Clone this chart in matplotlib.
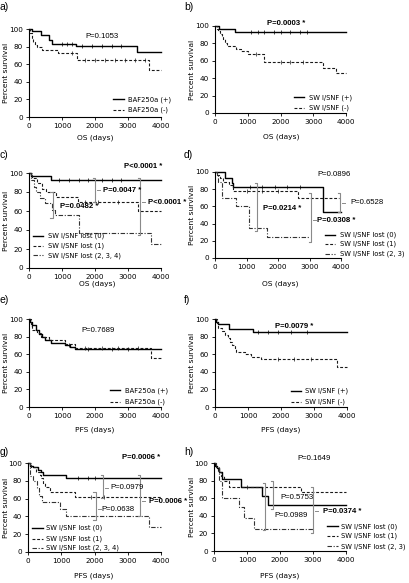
import numpy as np
import matplotlib
matplotlib.use('Agg')
import matplotlib.pyplot as plt

W, H = 409, 583
fig = plt.figure(figsize=(W / 100, H / 100), dpi=100)

# ---------------- data (step curves: event times, survival %) ----------------
xticks = [0, 1000, 2000, 3000, 4000]
yticks = [0, 20, 40, 60, 80, 100]

a_pos_t = [0, 80, 370, 615, 700, 1415, 3260]
a_pos_v = [100, 98, 93, 88, 83, 81, 73.5]
a_neg_t = [0, 40, 80, 120, 180, 250, 380, 870, 1450, 3650]
a_neg_v = [100, 95, 90, 85, 82, 79, 76, 73, 64.5, 53]

b_pos_t = [0, 120, 620]
b_pos_v = [100, 97, 93.5]
b_neg_t = [0, 50, 100, 150, 200, 250, 300, 380, 650, 800, 1000, 1500, 3300, 3700]
b_neg_v = [100, 97, 94, 91, 88, 85, 80, 77, 73, 71, 68, 58.5, 52, 46]

c0_t = [0, 50, 680]
c0_v = [100, 97, 93]
c1_t = [0, 100, 250, 390, 510, 815, 1480, 3300]
c1_v = [100, 95, 90, 83, 80, 75, 70, 60]
c2_t = [0, 60, 150, 220, 330, 480, 700, 780, 1500, 3700]
c2_v = [100, 93, 85, 80, 74, 68, 61, 56, 37, 25]

d0_t = [0, 317, 530, 580, 3440]
d0_v = [100, 93, 87, 82, 54]
d1_t = [0, 50, 150, 260, 450, 580, 2650]
d1_v = [100, 97, 93, 88, 85, 78, 70]
d2_t = [0, 60, 100, 210, 675, 1090, 1660]
d2_v = [100, 97, 88, 70, 60, 35, 24]

e_pos_t = [0, 40, 100, 200, 300, 380, 480, 680, 1100, 1250, 1400]
e_pos_v = [100, 97, 93, 88, 83, 79, 76, 72.5, 70, 68, 66]
e_neg_t = [0, 60, 100, 250, 350, 600, 1100, 1400, 3700]
e_neg_v = [100, 92, 88, 84, 79, 76, 72, 67, 56]

f_pos_t = [0, 40, 100, 420, 1160]
f_pos_v = [100, 97, 94, 89, 85]
f_neg_t = [0, 50, 100, 200, 300, 400, 450, 500, 600, 650, 900, 1100, 1400, 3700]
f_neg_v = [100, 95, 90, 86, 82, 78, 74, 70, 66, 62, 60, 57, 54.5, 46]

g0_t = [0, 50, 150, 300, 400, 450, 1140]
g0_v = [100, 97, 95, 92, 90, 87, 83]
g1_t = [0, 100, 250, 350, 400, 450, 500, 650, 1410]
g1_v = [100, 95, 90, 87, 83, 78, 73, 67, 61.5]
g2_t = [0, 50, 150, 270, 330, 430, 960, 1130, 3650]
g2_v = [100, 85, 80, 72, 63, 56, 48, 41, 28]

h0_t = [0, 30, 80, 150, 250, 810, 1450, 1650]
h0_v = [100, 97, 94, 90, 82, 73, 62, 52.5]
h1_t = [0, 60, 120, 200, 300, 450, 2630]
h1_v = [100, 95, 90, 85, 80, 73, 67.5]
h2_t = [0, 50, 150, 250, 760, 910, 1200]
h2_v = [100, 95, 80, 60, 50, 37, 25]

# censor tick times
a_pos_c = [1000, 1150, 1300, 1600, 1900, 2200, 2500, 2800]
a_neg_c = [1300, 1700, 2000, 2300, 2600, 2900, 3200, 3500]
b_pos_c = [1100, 1300, 1500, 1800, 2000, 2300, 2600, 2800]
b_neg_c = [1250, 2000, 2300, 2700]
c0_c = [900, 1200, 1500, 1800, 2200, 2500, 2800]
c1_c = [1700, 2100, 2700]
d0_c = [1100, 1500, 1900, 2300, 2700]
d1_c = [1000, 1500, 2000]
e_pos_c = [1200, 1800, 2500, 3000]
e_neg_c = [1700, 2200, 2700, 3300]
f_pos_c = [1300, 1600, 1900, 2300, 2800]
f_neg_c = [1900, 2400, 2900]
g0_c = [1500, 1800, 2000]
g1_c = [1900, 2300]
h1_c = [1000]

labels_ab = ['BAF250a (+)', 'BAF250a (-)']
labels_sw = ['SW I/SNF (+)', 'SW I/SNF (-)']
labels_c = ['SW I/SNF lost (0)', 'SW I/SNF lost (1)', 'SW I/SNF lost (2, 3, 4)']
labels_d = ['SW I/SNF lost (0)', 'SW I/SNF lost (1)', 'SW I/SNF lost (2, 3)']

# ---------------- styles ----------------
STY = {
    'solid': dict(color='black', lw=1.0, ls='-'),
    'dash': dict(color='#1a1a1a', lw=0.8, ls=(0, (2.6, 1.6))),
    'dashdot': dict(color='#333333', lw=0.8, ls=(0, (4, 1.5, 1, 1.5))),
}
GRAY = '#8a8a8a'
TICKFONT = dict(family='DejaVu Sans', size=5.2)
PFONT = 'Liberation Sans'


def px_rect(l, r, t, b):
    return [l / W, 1 - b / H, (r - l) / W, (b - t) / H]


def make_ax(rect, xlab, xlab_pos, ylab_x, letter, letter_pos):
    ax = fig.add_axes(rect)
    ax.set_xlim(0, 4000)
    ax.set_ylim(0, 100)
    ax.set_xticks(xticks)
    ax.set_yticks(yticks)
    ax.set_xticklabels([str(v) for v in xticks], fontdict=TICKFONT)
    ax.set_yticklabels([str(v) for v in yticks], fontdict=TICKFONT)
    for s in ['top', 'right']:
        ax.spines[s].set_visible(False)
    for s in ['left', 'bottom']:
        ax.spines[s].set_linewidth(0.8)
    ax.tick_params(direction='out', length=2, width=0.6, pad=2.5)
    fig.text(xlab_pos[0] / W, 1 - xlab_pos[1] / H, xlab, ha='center', va='center',
             fontsize=5.4, family='DejaVu Sans')
    pos = ax.get_position()
    fig.text(ylab_x / W, pos.y0 + pos.height / 2, 'Percent survival', rotation=90,
             ha='center', va='center', fontsize=5.4, family='DejaVu Sans')
    fig.text(letter_pos[0] / W, 1 - letter_pos[1] / H, letter, ha='left', va='center',
             fontsize=7.5, family='Liberation Sans')
    return ax


def curve(ax, t, v, style, end=4000, cens=None):
    tt = list(t) + [end]
    vv = list(v) + [v[-1]]
    ax.step(tt, vv, where='post', clip_on=False, **STY[style])
    if cens:
        idx = np.searchsorted(np.array(t), np.array(cens), side='right') - 1
        cv = np.array(v)[idx]
        ax.plot(cens, cv, ls='none', marker='|', ms=2.2, mew=0.5,
                color=STY[style]['color'], clip_on=False)


def legend(ax, labels, styles, x0, x1, xt, ys):
    for lab, st, y in zip(labels, styles, ys):
        ax.plot([x0, x1], [y, y], clip_on=False, **STY[st])
        ax.text(xt, y, lab, ha='left', va='center', fontsize=4.9,
                family='DejaVu Sans', clip_on=False)


def bracket(ax, x, ytop, ybot, text=None, tx=None, ty=None, bold=False, cap=70, dash=True):
    ax.plot([x - cap, x, x, x - cap], [ytop, ytop, ybot, ybot], color=GRAY, lw=0.8,
            clip_on=False)
    if text is not None:
        if dash:
            ax.plot([x + 60, x + 150], [ty, ty], color=GRAY, lw=0.7, clip_on=False)
        ptext(ax, tx, ty, text, bold)


def ptext(ax, x, y, text, bold=False):
    ax.text(x, y, text, ha='left', va='center', fontsize=5.6, family=PFONT,
            fontweight='bold' if bold else 'normal', clip_on=False)


# ---------------- panel a ----------------
ax = make_ax(px_rect(29, 161, 29, 117), 'OS (days)', (95, 138), 6, 'a)', (0, 7))
curve(ax, a_pos_t, a_pos_v, 'solid', cens=a_pos_c)
curve(ax, a_neg_t, a_neg_v, 'dash', cens=a_neg_c)
ptext(ax, 1720, 91, 'P=0.1053')
legend(ax, labels_ab, ['solid', 'dash'], 2560, 2880, 3010, [20, 8])

# ---------------- panel b ----------------
ax = make_ax(px_rect(215, 346, 26, 113), 'OS (days)', (281, 137), 192, 'b)', (184, 7))
curve(ax, b_pos_t, b_pos_v, 'solid', cens=b_pos_c)
curve(ax, b_neg_t, b_neg_v, 'dash', cens=b_neg_c)
ptext(ax, 1600, 103, 'P=0.0003 *', bold=True)
legend(ax, labels_sw, ['solid', 'dash'], 2400, 2720, 2880, [18, 6])

# ---------------- panel c ----------------
ax = make_ax(px_rect(29, 161, 173, 268), 'OS (days)', (97, 284), 6, 'c)', (0, 155))
curve(ax, c0_t, c0_v, 'solid', cens=c0_c)
curve(ax, c1_t, c1_v, 'dash', cens=c1_c)
curve(ax, c2_t, c2_v, 'dashdot')
ptext(ax, 2880, 107, 'P<0.0001 *', bold=True)
bracket(ax, 2010, 95, 69, 'P=0.0047 *', 2230, 82, bold=True)
bracket(ax, 3370, 95, 35, 'P<0.0001 *', 3620, 69, bold=True)
bracket(ax, 715, 80, 53, 'P=0.0482 *', 930, 65, bold=True, dash=False)
legend(ax, labels_c, ['solid', 'dash', 'dashdot'], 120, 430, 590, [34, 23.5, 13.3])

# ---------------- panel d ----------------
ax = make_ax(px_rect(215, 341, 172, 258), 'OS (days)', (280, 284), 192, 'd)', (184, 155))
curve(ax, d0_t, d0_v, 'solid', cens=d0_c)
curve(ax, d1_t, d1_v, 'dash', end=3950, cens=d1_c)
curve(ax, d2_t, d2_v, 'dashdot', end=3010)
ptext(ax, 3260, 97, 'P=0.0896')
bracket(ax, 1330, 87, 31, 'P=0.0214 *', 1530, 58, bold=True, dash=False)
bracket(ax, 3050, 75, 19, 'P=0.0308 *', 3240, 44, bold=True)
bracket(ax, 3980, 75, 54, 'P=0.6528', 4300, 64)
legend(ax, labels_d, ['solid', 'dash', 'dashdot'], 3500, 3820, 3980, [27, 16, 4.6])

# ---------------- panel e ----------------
ax = make_ax(px_rect(29, 161, 319, 407), 'PFS (days)', (95, 430), 6, 'e)', (0, 300))
curve(ax, e_pos_t, e_pos_v, 'solid', cens=e_pos_c)
curve(ax, e_neg_t, e_neg_v, 'dash', cens=e_neg_c)
ptext(ax, 1600, 87, 'P=0.7689')
legend(ax, labels_ab, ['solid', 'dash'], 2460, 2760, 2910, [19, 5.7])

# ---------------- panel f ----------------
ax = make_ax(px_rect(215, 347, 319, 407), 'PFS (days)', (281, 430), 192, 'f)', (184, 300))
curve(ax, f_pos_t, f_pos_v, 'solid', cens=f_pos_c)
curve(ax, f_neg_t, f_neg_v, 'dash', cens=f_neg_c)
ptext(ax, 1830, 92, 'P=0.0079 *', bold=True)
legend(ax, labels_sw, ['solid', 'dash'], 2300, 2610, 2740, [18, 5.7])

# ---------------- panel g ----------------
ax = make_ax(px_rect(28, 161, 463, 552), 'PFS (days)', (94, 576), 6, 'g)', (0, 452))
curve(ax, g0_t, g0_v, 'solid', cens=g0_c)
curve(ax, g1_t, g1_v, 'dash', cens=g1_c)
curve(ax, g2_t, g2_v, 'dashdot')
ptext(ax, 2820, 106, 'P=0.0006 *', bold=True)
bracket(ax, 2270, 87, 61, 'P=0.0979', 2470, 72)
bracket(ax, 2035, 67, 36, 'P=0.0638', 2200, 48)
bracket(ax, 3375, 87, 41, 'P=0.0006 *', 3630, 57, bold=True)
legend(ax, labels_c, ['solid', 'dash', 'dashdot'], 120, 450, 555, [27, 15, 4.5])

# ---------------- panel h ----------------
ax = make_ax(px_rect(214, 346, 463, 551), 'PFS (days)', (280, 576), 192, 'h)', (184, 452))
curve(ax, h0_t, h0_v, 'solid')
curve(ax, h1_t, h1_v, 'dash', cens=h1_c)
curve(ax, h2_t, h2_v, 'dashdot', end=3040)
ptext(ax, 2530, 104.6, 'P=0.1649')
bracket(ax, 1790, 79, 48, 'P=0.5753', 2000, 61, dash=False)
bracket(ax, 1550, 77, 23.6, 'P=0.0989', 1840, 40, dash=False)
bracket(ax, 3010, 73, 20, 'P=0.0374 *', 3310, 45, bold=True)
legend(ax, labels_d, ['solid', 'dash', 'dashdot'], 3420, 3750, 3850, [28, 17, 5.3])

fig.savefig('out.png', dpi=100)
